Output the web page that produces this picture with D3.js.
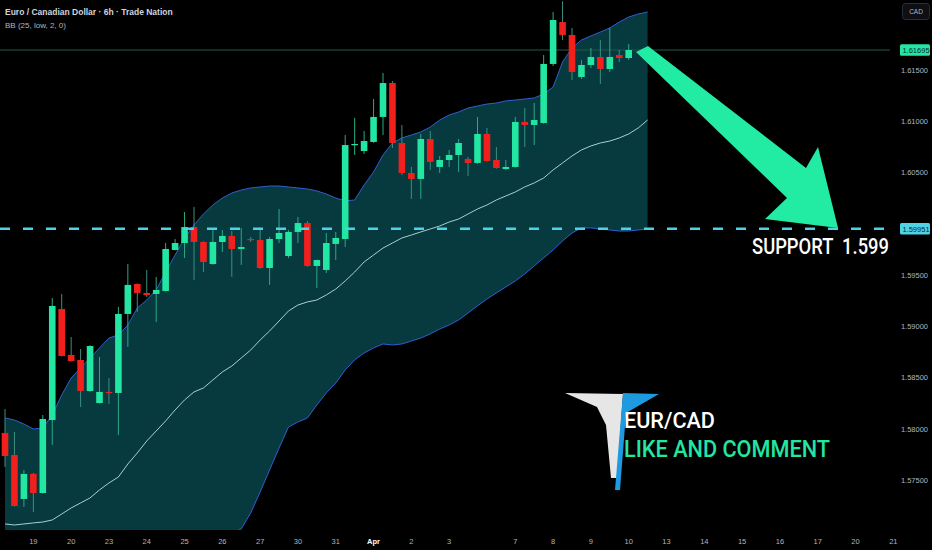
<!DOCTYPE html>
<html><head><meta charset="utf-8">
<script src="https://cdn.jsdelivr.net/npm/d3@7"></script>
<style>html,body{margin:0;padding:0;background:#000;overflow:hidden}</style>
</head><body><svg id="c" width="932" height="550"></svg>
<script>
const opens = [1.57959,1.57744,1.57315,1.57559,1.57373,1.58085,1.59168,1.58720,1.58671,1.58368,
1.58251,1.58359,1.58349,1.59120,1.59412,1.59325,1.59315,1.59344,1.59744,1.59812,
1.59968,1.59822,1.59607,1.59822,1.59881,1.59754,1.59851,1.59842,1.59568,1.59851,
1.59685,1.59920,1.60007,1.59588,1.59549,1.59803,1.59851,1.60768,1.60710,1.60798,
1.61042,1.61373,1.60788,1.60495,1.60437,1.60827,1.60554,1.60622,1.60671,1.60632,
1.60593,1.60876,1.60622,1.60534,1.60554,1.60993,1.60964,1.60983,1.61559,1.61968,
1.61842,1.61432,1.61549,1.61627,1.61510,1.61646,1.61617];
const highs = [1.58193,1.57968,1.57598,1.57569,1.58134,1.59276,1.59315,1.58895,1.58778,1.58815,
1.58700,1.58495,1.59188,1.59607,1.59418,1.59549,1.59481,1.59812,1.59851,1.60115,
1.60164,1.59828,1.59939,1.59939,1.59929,1.59959,1.59871,1.59959,1.59871,1.60144,
1.59939,1.60066,1.60027,1.59650,1.59910,1.59920,1.60866,1.61032,1.60905,1.61217,
1.61471,1.61393,1.60964,1.60554,1.60876,1.60905,1.60661,1.60720,1.60827,1.60651,
1.61042,1.60934,1.60749,1.60622,1.61042,1.61129,1.61178,1.61646,1.62066,1.62170,
1.61910,1.61598,1.61715,1.61793,1.61910,1.61695,1.61754];
const lows = [1.57627,1.57240,1.57237,1.57188,1.57365,1.57842,1.58705,1.58655,1.58212,1.58360,
1.58245,1.58242,1.57939,1.58798,1.59139,1.59285,1.59042,1.59338,1.59740,1.59666,
1.59451,1.59529,1.59600,1.59724,1.59481,1.59598,1.59822,1.59560,1.59403,1.59812,
1.59666,1.59812,1.59580,1.59373,1.59520,1.59646,1.59773,1.60671,1.60681,1.60790,
1.60866,1.60739,1.60476,1.60242,1.60242,1.60525,1.60495,1.60554,1.60505,1.60466,
1.60585,1.60605,1.60537,1.60525,1.60547,1.60749,1.60768,1.60975,1.61539,1.61793,
1.61403,1.61412,1.61520,1.61364,1.61481,1.61578,1.61598];
const closes = [1.57734,1.57246,1.57559,1.57373,1.58095,1.59198,1.58710,1.58661,1.58368,1.58807,
1.58359,1.58349,1.59120,1.59403,1.59325,1.59305,1.59354,1.59754,1.59812,1.59968,
1.59822,1.59627,1.59822,1.59881,1.59754,1.59773,1.59842,1.59568,1.59851,1.59910,
1.59920,1.60007,1.59588,1.59646,1.59812,1.59861,1.60768,1.60778,1.60807,1.61042,
1.61373,1.60788,1.60495,1.60437,1.60827,1.60603,1.60622,1.60671,1.60788,1.60593,
1.60876,1.60612,1.60544,1.60554,1.60993,1.60964,1.61012,1.61559,1.61988,1.61842,
1.61481,1.61549,1.61627,1.61510,1.61627,1.61617,1.61695];

const bbUpper = [1.58105,1.58085,1.58046,1.57998,1.58007,1.58134,1.58329,1.58495,1.58593,1.58690,
1.58788,1.58885,1.58915,1.59012,1.59178,1.59256,1.59354,1.59529,1.59695,1.59861,
1.59988,1.60095,1.60183,1.60251,1.60300,1.60329,1.60349,1.60359,1.60368,1.60368,
1.60359,1.60349,1.60339,1.60320,1.60290,1.60251,1.60222,1.60232,1.60378,1.60505,
1.60671,1.60788,1.60837,1.60866,1.60895,1.60944,1.61012,1.61061,1.61090,1.61129,
1.61149,1.61168,1.61178,1.61198,1.61207,1.61217,1.61227,1.61266,1.61334,1.61578,
1.61715,1.61793,1.61832,1.61871,1.61910,1.61968,1.62017,1.62046,1.62066];
const bbMiddle = [1.57071,1.57061,1.57071,1.57081,1.57090,1.57110,1.57168,1.57227,1.57276,1.57325,
1.57403,1.57471,1.57529,1.57656,1.57764,1.57881,1.57978,1.58076,1.58183,1.58281,
1.58359,1.58398,1.58476,1.58554,1.58612,1.58690,1.58768,1.58866,1.58954,1.59051,
1.59149,1.59207,1.59237,1.59256,1.59305,1.59363,1.59442,1.59529,1.59627,1.59695,
1.59763,1.59812,1.59861,1.59890,1.59920,1.59949,1.59978,1.60017,1.60046,1.60095,
1.60144,1.60183,1.60232,1.60271,1.60310,1.60359,1.60398,1.60446,1.60525,1.60593,
1.60661,1.60720,1.60759,1.60788,1.60807,1.60837,1.60876,1.60934,1.61012];
const bbLower = [1.56134,1.56085,1.56037,1.55988,1.55959,1.55939,1.55920,1.55910,1.55910,1.55920,
1.55939,1.55978,1.56037,1.56115,1.56212,1.56310,1.56407,1.56505,1.56603,1.56690,
1.56768,1.56837,1.56895,1.56944,1.56983,1.57022,1.57178,1.57383,1.57598,1.57812,
1.58017,1.58066,1.58105,1.58232,1.58349,1.58446,1.58573,1.58671,1.58739,1.58788,
1.58827,1.58817,1.58827,1.58856,1.58885,1.58925,1.58973,1.59012,1.59061,1.59129,
1.59198,1.59266,1.59325,1.59383,1.59442,1.59510,1.59588,1.59666,1.59744,1.59832,
1.59910,1.59959,1.59959,1.59949,1.59939,1.59929,1.59929,1.59939,1.59949];

const xTickIndex = [3,7,11,15,19,23,27,31,35,39,43,47,54,58,62,66,70,74,78,82,86,90,94];
const xTickLabels = ["19","20","23","24","25","26","27","30","31","Apr","2","3","7","8","9","10","13","14","15","16","17","20","21"];
const priceTicks = [1.575,1.58,1.585,1.59,1.595,1.605,1.61,1.615];
const lastPrice = 1.61695;
const supportPrice = 1.59951;
const titleText = "Euro / Canadian Dollar · 6h · Trade Nation";
const indicatorText = "BB (25, low, 2, 0)";

const W = 932, H = 550, plotW = 890, plotH = 530;
const svg = d3.select("#c");
svg.append("rect").attr("width", W).attr("height", H).attr("fill", "#000");

const x = d3.scaleLinear().domain([0, 94]).range([5, 5 + 9.45 * 94]);
const y = d3.scaleLinear().domain([1.57012, 1.62183]).range([plotH, 0]);

svg.append("defs").append("clipPath").attr("id", "clip")
  .append("rect").attr("width", plotW).attr("height", plotH);
const plot = svg.append("g").attr("clip-path", "url(#clip)");

const idx = d3.range(bbUpper.length);
plot.append("path").datum(idx)
  .attr("d", d3.area().x(i => x(i)).y0(i => y(bbLower[i])).y1(i => y(bbUpper[i])))
  .attr("fill", "#073a3e");
const ln = arr => d3.line().x(i => x(i)).y(i => y(arr[i]));
plot.append("path").datum(idx).attr("d", ln(bbMiddle)).attr("fill", "none").attr("stroke", "#a9cfcf").attr("stroke-width", 1);
plot.append("path").datum(idx).attr("d", ln(bbUpper)).attr("fill", "none").attr("stroke", "#2f5fd0").attr("stroke-width", 1);
plot.append("path").datum(idx).attr("d", ln(bbLower)).attr("fill", "none").attr("stroke", "#2f5fd0").attr("stroke-width", 1);

// last price line
plot.append("line").attr("x1", 0).attr("x2", plotW).attr("y1", y(lastPrice)).attr("y2", y(lastPrice))
  .attr("stroke", "#1d5c48").attr("stroke-width", 1);

// candles
const UP = "#22e6a2", DOWN = "#f2201c";
const cidx = d3.range(opens.length);
const cg = plot.append("g");
cg.selectAll("line.w").data(cidx).join("line")
  .attr("x1", i => x(i)).attr("x2", i => x(i))
  .attr("y1", i => y(highs[i])).attr("y2", i => y(lows[i]))
  .attr("stroke", i => closes[i] >= opens[i] ? "#2aa887" : "#3a8f80").attr("stroke-width", 1);
cg.selectAll("rect.b").data(cidx).join("rect")
  .attr("x", i => x(i) - 3.3).attr("width", 6.6)
  .attr("y", i => y(Math.max(opens[i], closes[i])))
  .attr("height", i => Math.max(1.2, Math.abs(y(opens[i]) - y(closes[i]))))
  .attr("fill", i => closes[i] >= opens[i] ? UP : DOWN);

// support dashed line
svg.append("line").attr("x1", 0).attr("x2", 897).attr("y1", y(supportPrice)).attr("y2", y(supportPrice))
  .attr("stroke", "#4fd3e4").attr("stroke-width", 2.6).attr("stroke-dasharray", "10,13");

// arrow
const arrowPts = [[636,52],[648,46],[806,168],[818,147],[838,228],[765,219],[787,198]];
svg.append("path").attr("d", d3.line()(arrowPts) + "Z").attr("fill", "#22eba3");

// support text
svg.append("text").attr("x", 752).attr("y", 254).text("SUPPORT  1.599")
  .attr("fill", "#ffffff").attr("font-family", "Roboto").attr("font-size", 22).attr("font-weight", 500)
  .attr("textLength", 137).attr("lengthAdjust", "spacingAndGlyphs").attr("xml:space","preserve");

// logo
svg.append("path").attr("d", d3.line()([[565,393],[623,394],[617,478],[611,478],[606,425],[597,407]]) + "Z").attr("fill", "#e6e6e6");
svg.append("path").attr("d", d3.line()([[623,393],[659,394],[626,413],[620,490],[615,490]]) + "Z").attr("fill", "#1e9be0");
svg.append("text").attr("x", 624).attr("y", 428).text("EUR/CAD")
  .attr("fill", "#fff").attr("font-family", "Roboto").attr("font-size", 22).attr("font-weight", 500)
  .attr("textLength", 91).attr("lengthAdjust", "spacingAndGlyphs");
svg.append("text").attr("x", 624).attr("y", 457).text("LIKE AND COMMENT")
  .attr("fill", "#22e6a2").attr("font-family", "Roboto").attr("font-size", 24).attr("font-weight", 500)
  .attr("textLength", 206).attr("lengthAdjust", "spacingAndGlyphs");

// title
svg.append("text").attr("x", 5).attr("y", 15).text(titleText)
  .attr("fill", "#d1d4dc").attr("font-family", "Liberation Sans").attr("font-size", 8.5).attr("font-weight", 600);
svg.append("text").attr("x", 5).attr("y", 28).text(indicatorText)
  .attr("fill", "#b2b5be").attr("font-family", "Liberation Sans").attr("font-size", 8);

// right axis
const ra = svg.append("g");
ra.selectAll("text").data(priceTicks).join("text")
  .attr("x", 928).attr("y", d => y(d) + 2.8).attr("text-anchor", "end")
  .text(d => d.toFixed(5)).attr("fill", "#b2b5be")
  .attr("font-family", "Liberation Sans").attr("font-size", 7.5);

function priceLabel(p, bg) {
  const g = svg.append("g");
  g.append("rect").attr("x", 900).attr("y", y(p) - 5.8).attr("width", 30).attr("height", 11.5).attr("rx", 1.5).attr("fill", bg);
  g.append("text").attr("x", 916).attr("y", y(p) + 2.8).attr("text-anchor", "middle").text(p.toFixed(5))
    .attr("fill", "#0b2d2a").attr("font-family", "Liberation Sans").attr("font-size", 7.5);
}
priceLabel(lastPrice, "#22e6a2");
priceLabel(supportPrice, "#4fd3e4");

// CAD box
svg.append("rect").attr("x", 902.5).attr("y", 3.5).attr("width", 27).attr("height", 16).attr("rx", 3)
  .attr("fill", "#0d0f14").attr("stroke", "#2a2e39");
svg.append("text").attr("x", 916).attr("y", 14).attr("text-anchor", "middle").text("CAD")
  .attr("fill", "#b2b5be").attr("font-family", "Liberation Sans").attr("font-size", 6.5);

// bottom axis
const ba = svg.append("g");
ba.selectAll("text").data(xTickIndex).join("text")
  .attr("x", d => x(d)).attr("y", 544).attr("text-anchor", "middle")
  .text((d, i) => xTickLabels[i])
  .attr("fill", (d, i) => xTickLabels[i] === "Apr" ? "#ffffff" : "#b2b5be")
  .attr("font-weight", (d, i) => xTickLabels[i] === "Apr" ? 700 : 400)
  .attr("font-family", "Liberation Sans").attr("font-size", 7.5);
</script></body></html>
